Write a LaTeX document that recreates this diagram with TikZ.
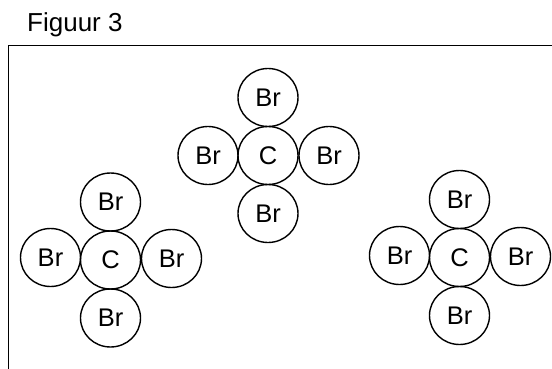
\documentclass[tikz,border=0pt]{standalone}
\usepackage{fontspec}
\setmainfont{Liberation Sans}
\usetikzlibrary{positioning}
\usetikzlibrary{shapes.geometric}

\begin{document}
\begin{tikzpicture}[x=1pt, y=-1pt, node distance=0pt,
atomnode/.style={ellipse, draw=black, line width=1.4pt, inner sep=0pt, outer sep=0pt, minimum width=60pt, minimum height=58pt, font=\fontsize{25.5}{26}\selectfont},
titlenode/.style={anchor=base west, inner sep=0pt, font=\fontsize{26}{27}\selectfont},
]
\useasboundingbox (0,0) rectangle (552,369);
%Title and frame
\node[titlenode]      (title)      at (27,32)      {Figuur 3};
\draw[line width=1.7pt] (552,45.5) -- (8.5,45.5) -- (8.5,369);

%Top molecule
\node[atomnode]      (C1)      at (268,155.5)      {C};
\node[atomnode]      (Br1top)      [above=of C1]      {Br};
\node[atomnode]      (Br1left)      [left=of C1]      {Br};
\node[atomnode]      (Br1right)      [right=of C1, xshift=1pt]      {Br};
\node[atomnode]      (Br1bottom)      [below=of C1]      {Br};

%Left molecule
\node[atomnode]      (C2)      at (110.5,260)      {C};
\node[atomnode]      (Br2top)      [above=of C2]      {Br};
\node[atomnode]      (Br2left)      [left=of C2, yshift=2.5pt]      {Br};
\node[atomnode]      (Br2right)      [right=of C2, xshift=1pt, yshift=1.5pt]      {Br};
\node[atomnode]      (Br2bottom)      [below=of C2]      {Br};

%Right molecule
\node[atomnode]      (C3)      at (459.5,257.5)      {C};
\node[atomnode]      (Br3top)      [above=of C3]      {Br};
\node[atomnode]      (Br3left)      [left=of C3, yshift=2pt]      {Br};
\node[atomnode]      (Br3right)      [right=of C3, xshift=1pt, yshift=1pt]      {Br};
\node[atomnode]      (Br3bottom)      [below=of C3]      {Br};
\end{tikzpicture}
\end{document}
